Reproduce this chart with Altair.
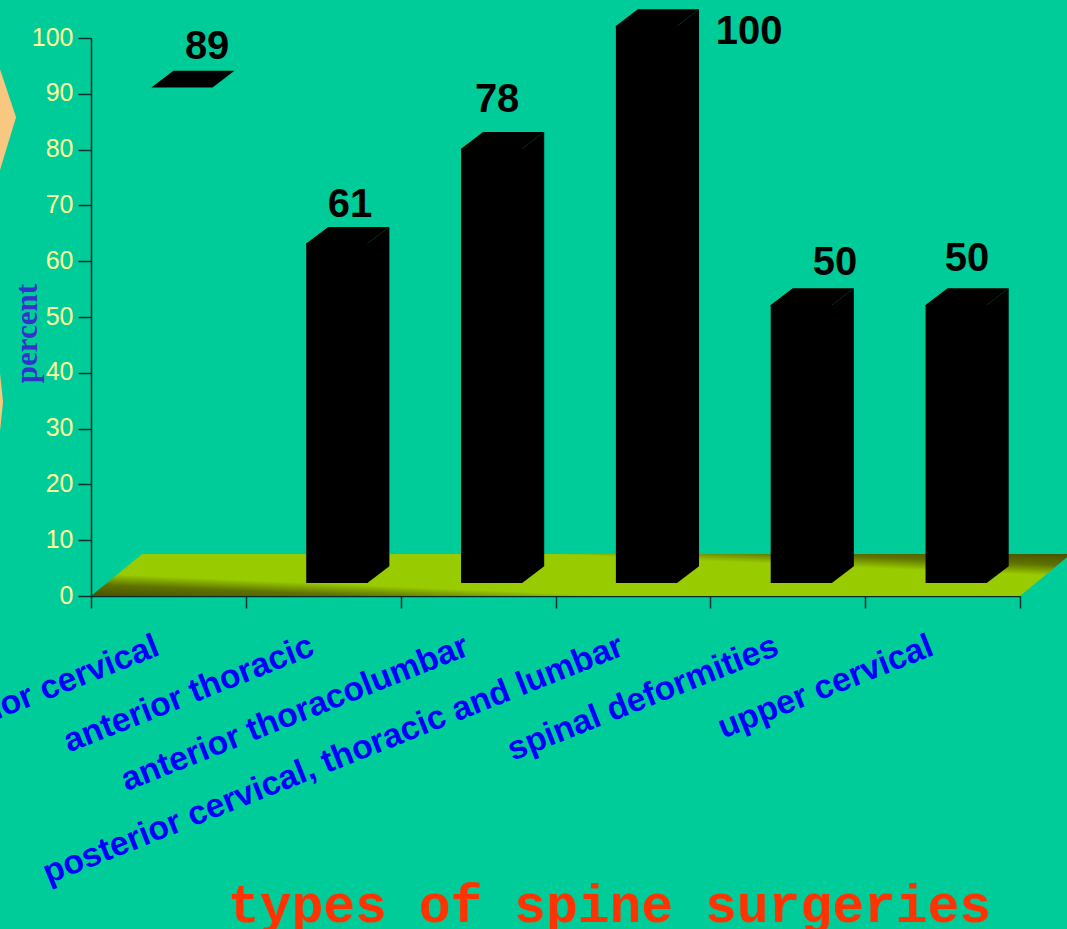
import altair as alt
import pandas as pd

# Survey values per surgery type
categories = [
    "anterior cervical",
    "anterior thoracic",
    "anterior thoracolumbar",
    "posterior cervical, thoracic and lumbar",
    "spinal deformities",
    "upper cervical",
]
percent = [89, 61, 78, 100, 50, 50]
has_body = [False, True, True, True, True, True]
y_ticks = [0, 10, 20, 30, 40, 50, 60, 70, 80, 90, 100]
x_ticks = [0, 1, 2, 3, 4, 5, 6]

# Value label nudges, in axis units
label_shift_x = [0.25, 0.173, 0.123, 0.75, 0.305, 0.158]
label_lift = [9.35, 9.0, 10.85, 1.1, 9.7, 10.4]

# Pseudo-3D geometry, in axis units
BAR_LEFT, BAR_RIGHT = 0.39, 0.785
DEPTH_X, DEPTH_Y = 0.142, 3.0
FLOOR_LIFT = 2.33
TOP_LIFT = 2.15
FLOOR_X, FLOOR_Y = 0.33, 7.53
OVERLAP = 0.02

BG = "#00cc99"
AXIS_DARK = "#04302c"

x_scale = alt.Scale(domain=[0, 6], nice=False, zero=False)
y_scale = alt.Scale(domain=[0, 100], nice=False)


def X(**kw):
    return alt.X("x:Q", scale=x_scale, axis=None, **kw)


def Y(**kw):
    return alt.Y("y:Q", scale=y_scale, axis=None, **kw)


# Floor slab, which also carries both axes
floor_df = pd.DataFrame({"y": [0, FLOOR_Y], "x": [0, FLOOR_X], "x2": [6, 6 + FLOOR_X]})
floor = (
    alt.Chart(floor_df)
    .mark_area(
        orient="horizontal",
        color=alt.Gradient(
            gradient="linear",
            x1=0, y1=1, x2=1, y2=0,
            stops=[
                alt.GradientStop(offset=0, color="#4a5000"),
                alt.GradientStop(offset=0.14, color="#5f7300"),
                alt.GradientStop(offset=0.27, color="#99cc00"),
                alt.GradientStop(offset=0.73, color="#99cc00"),
                alt.GradientStop(offset=0.86, color="#5f7300"),
                alt.GradientStop(offset=1, color="#4a5000"),
            ],
        ),
    )
    .encode(
        x=alt.X(
            "x:Q",
            scale=x_scale,
            axis=alt.Axis(
                values=x_ticks, labels=False, grid=False, tickSize=12, tickWidth=1.5,
                domainWidth=1.5, tickColor=AXIS_DARK, domainColor=AXIS_DARK,
                title="types of spine surgeries", titleFont="Liberation Mono",
                titleFontWeight="bold", titleFontSize=53, titleColor="#ff3300",
                titleX=518, titleY=325, titleBaseline="alphabetic", titleAnchor="middle",
            ),
        ),
        x2="x2:Q",
        y=alt.Y(
            "y:Q",
            scale=y_scale,
            axis=alt.Axis(
                values=y_ticks, grid=False, tickSize=13, tickWidth=1.5, domainWidth=1.5,
                labelPadding=5, labelOffset=-1,
                labelFont="Liberation Sans", labelFontSize=25, labelColor="#ffff99",
                tickColor=AXIS_DARK, domainColor=AXIS_DARK,
                title="percent", titleFont="Liberation Serif", titleFontWeight="bold",
                titleFontSize=31, titleColor="#3333cc",
                titleX=-55, titleY=295, titleBaseline="alphabetic", titleAnchor="middle",
                titleAngle=270,
            ),
        ),
    )
)

# Decorative chevrons at the left edge
accent_rows = []
for name, low, high, tip_x, tip_y in [("a", 76.3, 94.4, -0.484, 85.8), ("b", 29.4, 40.0, -0.568, 34.8)]:
    accent_rows.append({"k": name, "x": -0.7, "y": low, "y2": high})
    accent_rows.append({"k": name, "x": -0.588, "y": low, "y2": high})
    accent_rows.append({"k": name, "x": tip_x, "y": tip_y, "y2": tip_y})
accents = (
    alt.Chart(pd.DataFrame(accent_rows))
    .mark_area(orient="vertical", color="#f8c880", opacity=1)
    .encode(x=X(), y=Y(), y2="y2:Q", detail="k:N")
)

# Bar faces; the side and top overlap the front a little so no seam shows
front, side, top = [], [], []
for i, (v, solid) in enumerate(zip(percent, has_body)):
    left, right = i + BAR_LEFT, i + BAR_RIGHT
    peak = v + TOP_LIFT
    if solid:
        front.append({"x": left, "x2": right, "y": FLOOR_LIFT, "y2": peak})
        side.append({"k": i, "x": right - OVERLAP, "y": FLOOR_LIFT, "y2": peak})
        side.append({"k": i, "x": right, "y": FLOOR_LIFT, "y2": peak})
        side.append({"k": i, "x": right + DEPTH_X, "y": FLOOR_LIFT + DEPTH_Y, "y2": peak + DEPTH_Y})
        top.append({"k": i, "y": peak - 0.3, "x": left, "x2": right})
    top.append({"k": i, "y": peak, "x": left, "x2": right})
    top.append({"k": i, "y": peak + DEPTH_Y, "x": left + DEPTH_X, "x2": right + DEPTH_X})

front_layer = (
    alt.Chart(pd.DataFrame(front))
    .mark_rect(color="black")
    .encode(x=X(), x2="x2:Q", y=Y(), y2="y2:Q")
)
side_layer = (
    alt.Chart(pd.DataFrame(side))
    .mark_area(orient="vertical", color="black")
    .encode(x=X(), y=Y(), y2="y2:Q", detail="k:N")
)
top_layer = (
    alt.Chart(pd.DataFrame(top))
    .mark_area(orient="horizontal", color="black")
    .encode(x=X(), x2="x2:Q", y=Y(), detail="k:N")
)

# Value labels
value_df = pd.DataFrame(
    {
        "x": [i + 0.5 + s for i, s in enumerate(label_shift_x)],
        "y": [v + l for v, l in zip(percent, label_lift)],
        "t": [str(v) for v in percent],
    }
)
values_layer = (
    alt.Chart(value_df)
    .mark_text(font="Liberation Sans", fontWeight="bold", fontSize=40, color="black", baseline="middle")
    .encode(x=X(), y=Y(), text="t:N")
)

# Slanted category names under the axis
cat_df = pd.DataFrame({"x": [i + 0.43 for i in range(len(categories))], "t": categories})
cat_layer = (
    alt.Chart(cat_df)
    .mark_text(
        font="Liberation Sans", fontWeight="bold", fontSize=33.7, color="#0000ff",
        angle=338.3, align="right", baseline="middle",
    )
    .encode(x=X(), y=alt.value(607), text="t:N")
)

chart = (
    alt.layer(floor, accents, side_layer, top_layer, front_layer, values_layer, cat_layer)
    .resolve_axis(x="independent", y="independent")
    .properties(
        width=929,
        height=558,
        background=BG,
        padding={"left": 91, "top": 38, "right": 47, "bottom": 333},
        autosize=alt.AutoSizeParams(type="none"),
    )
    .configure_view(stroke=None)
)

chart.save("out.html", embed_options={"renderer": "svg", "actions": False})
